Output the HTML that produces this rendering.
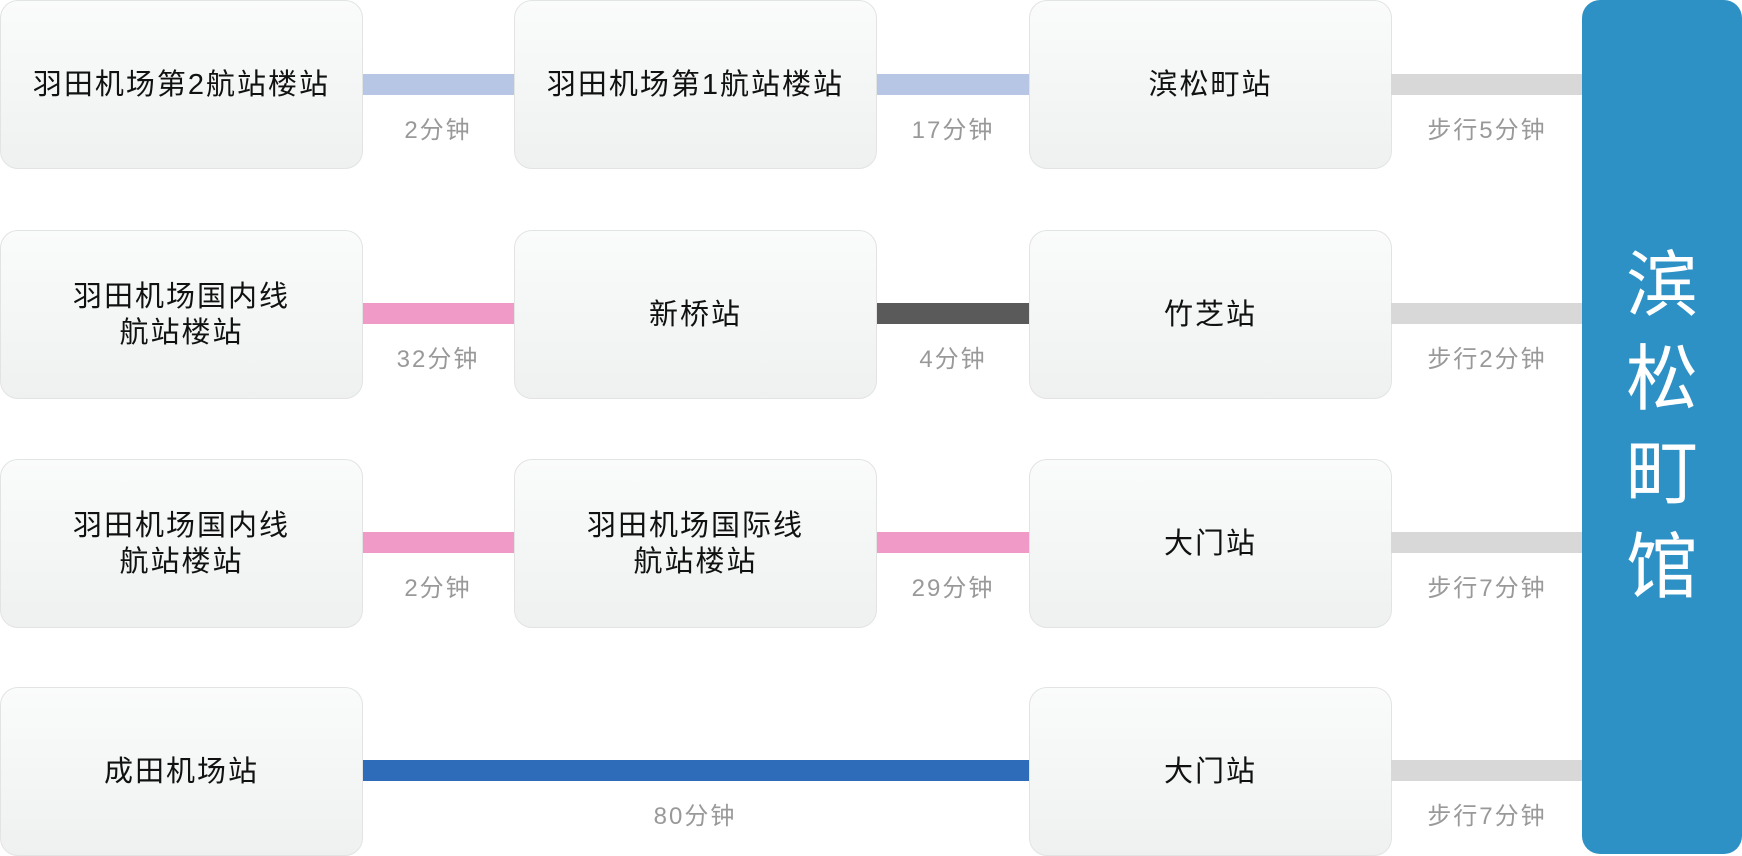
<!DOCTYPE html><html><head><meta charset="utf-8"><style>
body{margin:0;width:1742px;height:854px;background:#fff;position:relative;overflow:hidden;font-family:"Liberation Sans","Noto Sans CJK SC",sans-serif}
.b{position:absolute;width:361px;height:167px;border:1px solid #e2e3e3;border-radius:18px;background:linear-gradient(#fafbfb,#eff1f1);display:flex;align-items:center;justify-content:center;text-align:center;font-size:29px;line-height:36px;color:#111;letter-spacing:2px}
.l{position:absolute;height:21px}
.t{position:absolute;font-size:24px;color:#999;text-align:center;width:220px;line-height:28px;letter-spacing:2px}
.blue{position:absolute;left:1582px;top:0;width:160px;height:854px;background:#2d91c6;border-radius:18px;color:#fff;font-size:72px;line-height:94px;display:flex;align-items:center;justify-content:center;text-align:center}
</style></head><body>
<div class="b" style="left:0;top:0">羽田机场第2航站楼站</div>
<div class="b" style="left:514px;top:0">羽田机场第1航站楼站</div>
<div class="b" style="left:1029px;top:0">滨松町站</div>
<div class="l" style="left:363px;width:151px;top:74px;background:#b7c6e5"></div>
<div class="l" style="left:877px;width:152px;top:74px;background:#b7c6e5"></div>
<div class="l" style="left:1391px;width:191px;top:74px;background:#d8d8d8"></div>
<div class="t" style="left:328px;top:117px">2分钟</div>
<div class="t" style="left:843px;top:117px">17分钟</div>
<div class="t" style="left:1377px;top:117px">步行5分钟</div>

<div class="b" style="left:0;top:230px">羽田机场国内线<br>航站楼站</div>
<div class="b" style="left:514px;top:230px">新桥站</div>
<div class="b" style="left:1029px;top:230px">竹芝站</div>
<div class="l" style="left:363px;width:151px;top:303px;background:#f09ac8"></div>
<div class="l" style="left:877px;width:152px;top:303px;background:#5a5a5a"></div>
<div class="l" style="left:1391px;width:191px;top:303px;background:#d8d8d8"></div>
<div class="t" style="left:328px;top:346px">32分钟</div>
<div class="t" style="left:843px;top:346px">4分钟</div>
<div class="t" style="left:1377px;top:346px">步行2分钟</div>

<div class="b" style="left:0;top:459px">羽田机场国内线<br>航站楼站</div>
<div class="b" style="left:514px;top:459px">羽田机场国际线<br>航站楼站</div>
<div class="b" style="left:1029px;top:459px">大门站</div>
<div class="l" style="left:363px;width:151px;top:532px;background:#f09ac8"></div>
<div class="l" style="left:877px;width:152px;top:532px;background:#f09ac8"></div>
<div class="l" style="left:1391px;width:191px;top:532px;background:#d8d8d8"></div>
<div class="t" style="left:328px;top:575px">2分钟</div>
<div class="t" style="left:843px;top:575px">29分钟</div>
<div class="t" style="left:1377px;top:575px">步行7分钟</div>

<div class="b" style="left:0;top:687px">成田机场站</div>
<div class="b" style="left:1029px;top:687px">大门站</div>
<div class="l" style="left:363px;width:666px;top:760px;background:#2e6bb8"></div>
<div class="l" style="left:1391px;width:191px;top:760px;background:#d8d8d8"></div>
<div class="t" style="left:585px;top:803px">80分钟</div>
<div class="t" style="left:1377px;top:803px">步行7分钟</div>

<div class="blue">滨<br>松<br>町<br>馆</div>
</body></html>
